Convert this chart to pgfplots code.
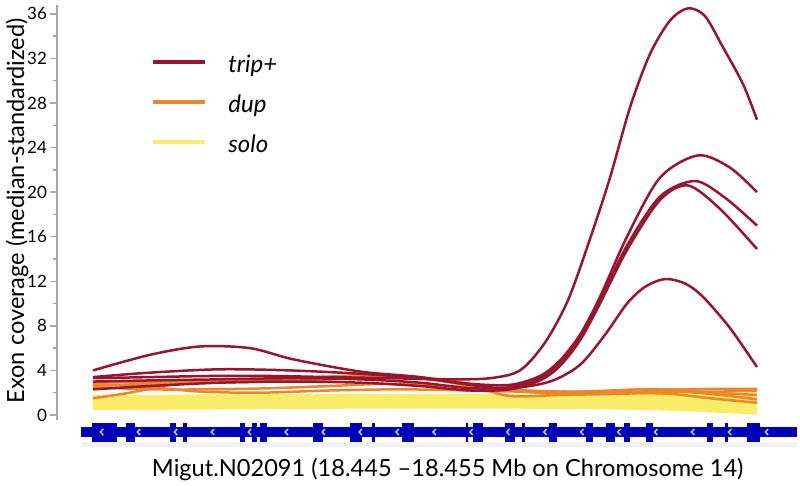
\documentclass[border=0pt]{standalone}
\usepackage{fontspec}
\setmainfont{Lato}
\usepackage{pgfplots}
\pgfplotsset{compat=1.18}
\definecolor{trip}{RGB}{155,20,45}
\definecolor{dup}{RGB}{235,135,40}
\definecolor{solo}{RGB}{248,236,105}
\definecolor{gene}{RGB}{0,0,185}
\definecolor{chev}{RGB}{200,200,255}
\pgfdeclareplotmark{chev}{%
 \pgfpathmoveto{\pgfqpoint{0.8pt}{1.5pt}}%
 \pgfpathlineto{\pgfqpoint{-0.6pt}{0pt}}%
 \pgfpathlineto{\pgfqpoint{0.8pt}{-1.5pt}}%
 \pgfusepathqstroke}
\begin{document}
\begin{tikzpicture}
\useasboundingbox (0,0) rectangle (400pt,243pt);
\begin{axis}[
 at={(28.5pt,33pt)}, anchor=south west,
 scale only axis, width=370pt, height=207.5pt,
 xmin=57, xmax=797, ymin=-0.45, ymax=36.8,
 clip=false,
 axis y line*=left,
 x axis line style={draw=none},
 y axis line style={draw=black!35, line width=0.7pt},
 xtick=\empty,
 ytick={0,4,...,36}, minor ytick={2,6,...,34},
 tick align=outside, major tick length=3.5pt, minor tick length=1.8pt,
 ytick style={draw=black!35, line width=0.7pt},
 minor y tick style={draw=black!35, line width=0.7pt},
 yticklabel style={font=\fontsize{8.5}{9}\selectfont, black, xshift=2pt},
 /pgf/number format/assume math mode=true,
 ylabel={Exon coverage (median-standardized)},
 ylabel style={at={(axis description cs:-0.054,0.504)}, anchor=center, font=\fontsize{11.8}{13}\selectfont},
 xlabel={Migut.N02091 (18.445 –18.455 Mb on Chromosome 14)},
 xlabel style={at={(axis description cs:0.528,0)}, anchor=base, yshift=-28.5pt, font=\fontsize{11.8}{13}\selectfont},
 legend style={at={(axis description cs:0.127,0.875)}, anchor=north west, draw=none, fill=none,
   font=\fontsize{12}{13}\selectfont\itshape, inner sep=0pt, row sep=10pt, column sep=10.5pt,
   nodes={inner sep=0pt, text height=7.5pt, text depth=2.5pt}},
 legend cell align=left,
 legend image code/.code={\draw[line width=2pt] (0pt,2.5pt) -- (26pt,2.5pt);},
]
\addlegendimage{trip}\addlegendentry{trip+}
\addlegendimage{dup}\addlegendentry{dup}
\addlegendimage{solo}\addlegendentry{solo}

% gene track
\addplot[black!5, line width=2.5pt, sharp plot, forget plot] coordinates {(80.7,-2.64) (797,-2.64)};
\addplot[gene, line width=5.3pt, sharp plot, forget plot] coordinates {(80.7,-1.53) (797,-1.53)};
\addplot[gene, line width=9.5pt, sharp plot, forget plot, unbounded coords=jump] coordinates {
(91.7,-1.53)(117.5,-1.53) (nan,-1.53)
(126,-1.53)(135,-1.53) (nan,-1.53)
(170,-1.53)(176,-1.53) (nan,-1.53)
(183,-1.53)(187,-1.53) (nan,-1.53)
(240,-1.53)(245,-1.53) (nan,-1.53)
(252,-1.53)(257,-1.53) (nan,-1.53)
(260,-1.53)(267,-1.53) (nan,-1.53)
(313,-1.53)(323,-1.53) (nan,-1.53)
(350,-1.53)(362,-1.53) (nan,-1.53)
(372,-1.53)(375,-1.53) (nan,-1.53)
(402,-1.53)(414,-1.53) (nan,-1.53)
(466,-1.53)(468,-1.53) (nan,-1.53)
(473,-1.53)(483,-1.53) (nan,-1.53)
(505,-1.53)(515,-1.53) (nan,-1.53)
(522,-1.53)(525,-1.53) (nan,-1.53)
(549,-1.53)(557,-1.53) (nan,-1.53)
(586,-1.53)(593,-1.53) (nan,-1.53)
(606,-1.53)(615,-1.53) (nan,-1.53)
(624,-1.53)(630,-1.53) (nan,-1.53)
(646,-1.53)(653,-1.53) (nan,-1.53)
(707,-1.53)(713,-1.53) (nan,-1.53)
(725,-1.53)(728,-1.53) (nan,-1.53)
(747,-1.53)(760,-1.53)};
\addplot[only marks, mark=chev, chev, mark options={line width=0.75pt}, forget plot] coordinates {
(101.7,-1.53)(138.6,-1.53)(175.6,-1.53)(212.5,-1.53)(249.5,-1.53)(286.4,-1.53)(323.3,-1.53)
(360.3,-1.53)(397.2,-1.53)(434.2,-1.53)(471.1,-1.53)(508.0,-1.53)(545.0,-1.53)(581.9,-1.53)
(618.9,-1.53)(655.8,-1.53)(692.7,-1.53)(729.7,-1.53)(766.6,-1.53)};

% solo
\pgfplotsset{every axis plot/.append style={smooth, forget plot}}
\addplot[solo, line width=2.5pt] coordinates {(93,0.65)(180,0.7)(280,0.75)(380,0.8)(480,0.8)(580,0.75)(650,0.65)(700,0.5)(757,0.25)};
\addplot[solo, line width=2.5pt] coordinates {(93,0.8)(180,0.9)(280,0.85)(380,0.95)(480,0.9)(580,0.85)(650,0.8)(700,0.7)(757,0.5)};
\addplot[solo, line width=2.5pt] coordinates {(93,1.0)(180,0.95)(280,1.05)(380,1.05)(480,1.1)(580,1.0)(650,0.95)(700,0.9)(757,0.75)};
\addplot[solo, line width=2.5pt] coordinates {(93,1.1)(180,1.15)(280,1.2)(380,1.2)(480,1.2)(580,1.15)(650,1.1)(700,1.05)(757,1.0)};
\addplot[solo, line width=2.5pt] coordinates {(93,1.3)(180,1.25)(280,1.35)(380,1.4)(480,1.35)(580,1.3)(650,1.3)(700,1.25)(757,1.2)};
\addplot[solo, line width=2.5pt] coordinates {(93,1.4)(180,1.45)(280,1.5)(380,1.5)(480,1.5)(580,1.45)(650,1.45)(700,1.45)(757,1.45)};
\addplot[solo, line width=2.5pt] coordinates {(93,1.55)(180,1.55)(280,1.6)(380,1.65)(480,1.6)(580,1.6)(650,1.6)(700,1.65)(757,1.7)};
\addplot[solo, line width=2.5pt] coordinates {(93,1.5)(180,1.6)(280,1.65)(380,1.6)(480,1.65)(580,1.6)(650,1.65)(700,1.75)(757,1.8)};

% dup
\addplot[dup, line width=1.25pt] coordinates {(93,2.8)(150,2.5)(200,2.1)(260,2.0)(330,2.2)(400,2.3)(470,2.2)(520,2.1)(580,2.1)(640,2.3)(680,2.3)(720,2.35)(757,2.35)};
\addplot[dup, line width=1.25pt] coordinates {(93,1.5)(130,2.0)(170,2.7)(210,3.0)(260,3.1)(320,3.4)(380,3.6)(430,3.3)(470,2.8)(510,2.2)(560,2.0)(620,2.0)(670,2.2)(710,2.0)(757,1.8)};
\addplot[dup, line width=1.25pt] coordinates {(93,2.6)(150,2.8)(210,2.9)(270,3.0)(330,3.2)(390,3.4)(440,3.1)(480,2.6)(520,2.1)(580,1.9)(640,2.1)(680,2.1)(720,1.8)(757,1.4)};
\addplot[dup, line width=1.25pt] coordinates {(93,2.5)(150,2.3)(210,2.3)(270,2.4)(330,2.6)(390,2.8)(450,2.6)(500,2.3)(560,2.1)(620,2.0)(670,1.9)(710,1.5)(757,1.1)};
\addplot[dup, line width=1.25pt] coordinates {(93,2.9)(160,3.0)(230,3.1)(300,3.3)(360,3.5)(420,3.3)(470,2.6)(510,1.7)(560,1.8)(620,1.9)(680,2.1)(720,2.1)(757,2.2)};

% trip+
\addplot[trip, line width=1.25pt] coordinates {(93,3.3)(150,3.4)(210,3.5)(270,3.5)(330,3.4)(390,3.3)(450,3.2)(490,3.3)(520,4.0)(545,6.5)(568,10.3)(590,15.8)(610,21.3)(630,27.6)(650,32.4)(670,35.4)(688,36.5)(705,35.8)(723,33.0)(743,29.7)(757,26.5)};
\addplot[trip, line width=1.25pt] coordinates {(93,3.4)(150,3.8)(220,4.1)(290,4.0)(360,3.7)(420,3.3)(470,2.8)(510,2.7)(540,3.5)(560,4.9)(580,7.2)(600,10.6)(627,16.0)(660,21.3)(698,23.3)(730,22.2)(757,20.0)};
\addplot[trip, line width=1.25pt] coordinates {(93,3.0)(150,3.1)(220,3.2)(290,3.3)(360,3.2)(420,2.9)(470,2.4)(510,2.5)(540,3.3)(560,4.7)(580,7.0)(600,10.3)(627,15.2)(660,19.6)(695,21.0)(725,19.5)(757,17.0)};
\addplot[trip, line width=1.25pt] coordinates {(93,2.3)(150,2.6)(220,2.9)(290,3.0)(360,2.9)(420,2.6)(470,2.2)(510,2.3)(540,3.1)(560,4.4)(580,6.7)(600,10.0)(627,14.8)(660,19.3)(688,20.6)(720,18.5)(757,14.9)};
\addplot[trip, line width=1.25pt] coordinates {(93,4.0)(150,5.4)(200,6.15)(250,6.0)(293,5.0)(360,3.9)(420,3.4)(470,2.7)(510,2.4)(550,3.0)(580,4.5)(605,7.2)(627,10.0)(645,11.5)(665,12.2)(685,11.8)(703,10.6)(730,7.8)(757,4.3)};
\end{axis}
\end{tikzpicture}
\end{document}
